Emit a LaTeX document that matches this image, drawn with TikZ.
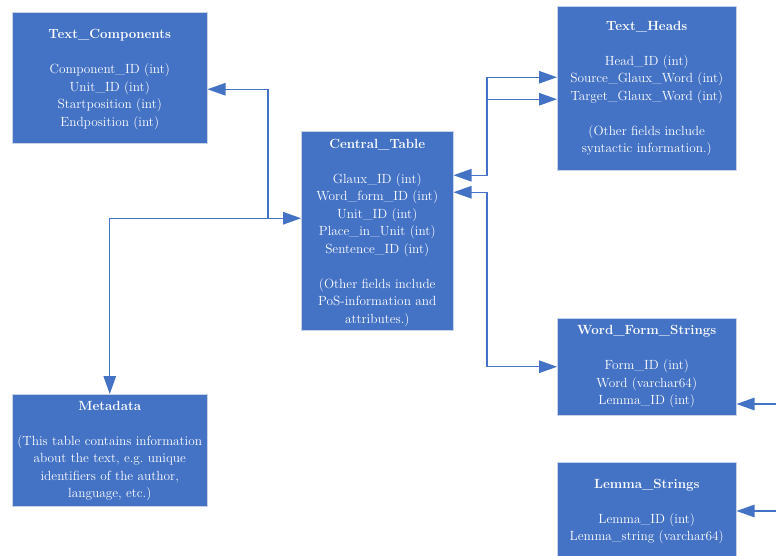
\documentclass[tikz,border=0pt]{standalone}
\usetikzlibrary{positioning,arrows.meta,calc}
\definecolor{tblblue}{HTML}{4472C4}
\definecolor{tbledge}{HTML}{C9D3E8}

\begin{document}
\begin{tikzpicture}[
    x=1pt, y=1pt,
    >={Triangle[length=18pt, width=12.5pt]},
    tbl/.style={draw=tbledge, line width=0.5pt, fill=tblblue, anchor=north west, inner sep=0pt},
    tbltext/.style={inner sep=0pt, align=center, text=white, font=\fontsize{13.3}{17.5}\selectfont},
    arr/.style={draw=tblblue, line width=1.3pt},
]
\useasboundingbox (0,0) rectangle (776,555);
\clip (0,0) rectangle (776,555);

% Tables
\node[tbl, minimum width=195pt, minimum height=131pt] (comp) at (12,543) {};
\node[tbl, minimum width=152pt, minimum height=199pt] (central) at (301,424) {};
\node[tbl, minimum width=179pt, minimum height=164pt] (heads) at (557,549) {};
\node[tbl, minimum width=179pt, minimum height=97pt] (wordform) at (557,237) {};
\node[tbl, minimum width=179pt, minimum height=100pt] (lemma) at (557,93) {};
\node[tbl, minimum width=195pt, minimum height=112pt] (meta) at (12,161) {};

% Table contents
\node[tbltext, below=17.5pt of comp.north] (comptxt) {\textbf{Text\_Components}\\[17.5pt]
    Component\_ID (int)\\ Unit\_ID (int)\\ Startposition (int)\\ Endposition (int)};
\node[tbltext, below=8pt of central.north] (centraltxt) {\textbf{Central\_Table}\\[17.5pt]
    Glaux\_ID (int)\\ Word\_form\_ID (int)\\ Unit\_ID (int)\\ Place\_in\_Unit (int)\\ Sentence\_ID (int)\\[17.5pt]
    (Other fields include\\ PoS-information and\\ attributes.)};
\node[tbltext, below=15pt of heads.north] (headstxt) {\textbf{Text\_Heads}\\[17.5pt]
    Head\_ID (int)\\ Source\_Glaux\_Word (int)\\ Target\_Glaux\_Word (int)\\[17.5pt]
    (Other fields include\\ syntactic information.)};
\node[tbltext, below=7.5pt of wordform.north] (wordformtxt) {\textbf{Word\_Form\_Strings}\\[17.5pt]
    Form\_ID (int)\\ Word (varchar64)\\ Lemma\_ID (int)};
\node[tbltext, below=17pt of lemma.north] (lemmatxt) {\textbf{Lemma\_Strings}\\[17.5pt]
    Lemma\_ID (int)\\ Lemma\_string (varchar64)};
\node[tbltext, below=7pt of meta.north] (metatxt) {\textbf{Metadata}\\[17.5pt]
    (This table contains information\\ about the text, e.g.\ unique\\ identifiers of the author,\\ language, etc.)};

% Left links
\coordinate (jl) at ($(central.west)+(-33,12.5)$);
\draw[arr, <->] (meta.north) |- (jl) -- ($(central.west)+(0,12.5)$);
\draw[arr, ->] (jl) |- ($(comp.east)+(0,-11.5)$);

% Right links
\draw[arr, <->] ($(central.east)+(0,55.5)$) -| ($(heads.west)+(-70,11)$) -- ($(heads.west)+(0,11)$);
\draw[arr, ->] ($(heads.west)+(-70,-11)$) -- ($(heads.west)+(0,-11)$);
\draw[arr, <->] ($(central.east)+(0,38.5)$) -| ($(wordform.west)+(-70,0)$) -- (wordform.west);

% Incoming from the right edge
\coordinate (wfin) at (780,151);
\coordinate (lmin) at (780,44);
\draw[arr, ->] (wfin) -- (wfin -| wordform.east);
\draw[arr, ->] (lmin) -- (lmin -| lemma.east);

\end{tikzpicture}
\end{document}
